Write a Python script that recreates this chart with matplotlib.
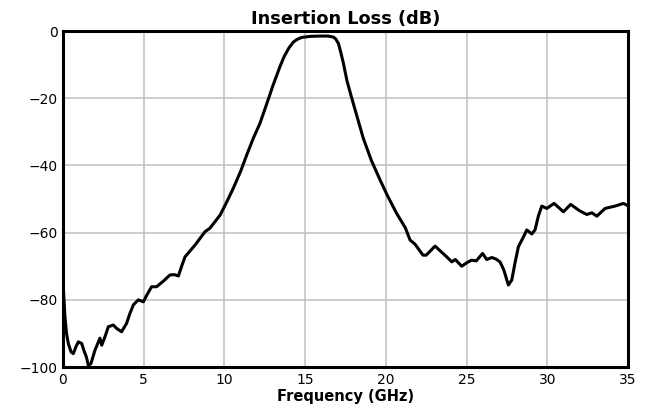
import matplotlib.pyplot as plt
import numpy as np

# insertion loss
freq = [0.0, 0.04, 0.12, 0.22, 0.33, 0.5, 0.64, 0.8, 0.95, 1.16, 1.32, 1.45, 1.57, 1.73,
        1.98, 2.29, 2.4, 2.6, 2.81, 3.12, 3.32, 3.63, 3.94, 4.15, 4.36, 4.67, 4.98,
        5.2, 5.49, 5.8, 6.2, 6.63, 6.9, 7.15, 7.35, 7.56, 8.18, 8.8, 9.1, 9.73,
        10.1, 10.55, 11.0, 11.38, 11.79, 12.2, 12.72, 13.0, 13.44, 13.7, 14.0, 14.27,
        14.5, 14.79, 15.3, 15.92, 16.4, 16.75, 16.9, 17.06, 17.2, 17.37, 17.6, 17.89,
        18.2, 18.6, 19.1, 19.64, 20.1, 20.67, 21.2, 21.5, 21.8,
        22.3, 22.5, 23.05, 23.36, 23.77, 24.08, 24.3, 24.7, 25.0, 25.3, 25.6,
        25.99, 26.25, 26.56, 26.8, 27.07, 27.3, 27.59, 27.8, 28.0, 28.21, 28.5,
        28.73, 29.04, 29.24, 29.45, 29.66, 29.97, 30.42, 31.0, 31.45, 32.0,
        32.45, 32.76, 33.07, 33.58, 34.2, 34.71, 34.92, 35.0]
loss = [-72, -78, -85, -90, -93, -95.5, -96, -94, -92.5, -93, -95.4, -97, -99.5, -99,
        -95, -91.4, -93.5, -91, -88, -87.5, -88.5, -89.5, -87, -84, -81.5, -80, -80.6,
        -78.5, -76.1, -76.1, -74.5, -72.6, -72.5, -72.9, -70, -67.2, -63.7, -59.7, -58.7, -54.8,
        -51.3, -46.8, -41.8, -36.9, -31.9, -27.5, -20.3, -16.3, -10.6, -7.6, -5.0, -3.3,
        -2.5, -1.9, -1.6, -1.5, -1.5, -1.8, -2.4, -3.7, -6.2, -9.6, -15.0, -20,
        -25.2, -31.9, -38.5, -44.3, -49.0, -54.3, -58.5, -62.2, -63.4,
        -66.7, -66.7, -64, -65.4, -67.2, -68.7, -68, -70, -69, -68.2, -68.4,
        -66.2, -68, -67.4, -67.8, -68.7, -71, -75.6, -74.1, -69, -64.2, -61.5,
        -59.2, -60.4, -59.2, -55, -52.1, -52.8, -51.3, -53.8, -51.6, -53.5,
        -54.6, -54.1, -55.1, -52.8, -52.1, -51.3, -51.8, -52]

xticks = [0, 5, 10, 15, 20, 25, 30, 35]
yticks = [0, -20, -40, -60, -80, -100]

fig = plt.figure(figsize=(6.52, 4.19), dpi=100)
ax = fig.add_axes([0.0966, 0.124, 0.8666, 0.802])

ax.plot(freq, loss, color='black', lw=2.2)

ax.set_xlim(0, 35)
ax.set_ylim(-100, 0)
ax.set_xticks(xticks)
ax.set_yticks(yticks)
ax.set_yticklabels(['0', '\u221220', '\u221240', '\u221260', '\u221280', '\u2212100'])
ax.grid(True, color='#c0c0c0', lw=1.1)
ax.set_axisbelow(True)
for s in ax.spines.values():
    s.set_linewidth(2.2)
ax.tick_params(labelsize=10, length=0, pad=4)

ax.set_title('Insertion Loss (dB)', fontsize=12.8, fontweight='bold', pad=5)
ax.set_xlabel('Frequency (GHz)', fontsize=10.5, fontweight='bold', labelpad=2)

fig.savefig('out.png', dpi=100)
